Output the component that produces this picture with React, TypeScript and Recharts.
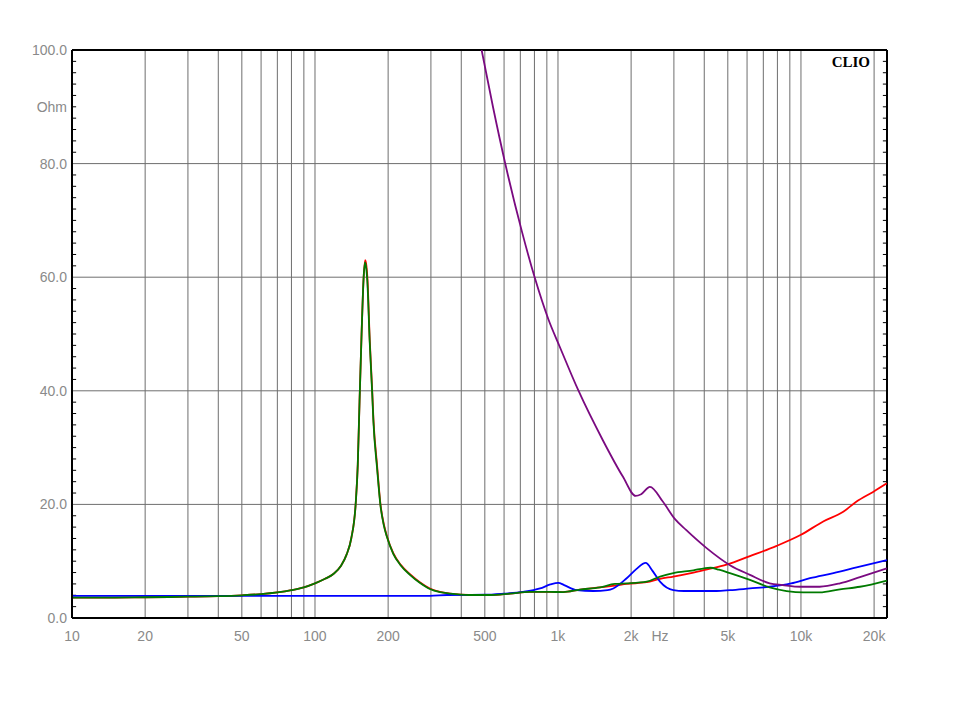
import { LineChart, Line, XAxis, YAxis, ReferenceLine } from 'recharts';

// impedance curves (Hz, Ohm)
const redFreq = [10, 15, 20, 25, 30, 40, 50, 60, 70, 80, 90, 100, 110, 119, 128, 135, 141, 147, 150, 152.5, 155.5, 158.6, 161, 162.8, 164.3, 168, 172, 174, 180, 186, 192, 198, 210, 225, 246, 270, 297, 327, 360, 430, 525, 635, 767, 927, 1050, 1230, 1490, 1715, 1918, 2318, 2630, 2983, 3610, 4155, 4943, 6166, 7943, 9954, 12350, 14930, 16940, 19810, 22560];
const redOhm = [3.6, 3.6, 3.65, 3.7, 3.75, 3.85, 4.0, 4.2, 4.5, 4.9, 5.4, 6.1, 6.9, 7.75, 9.2, 11.2, 14.0, 20.0, 27, 38, 50, 60, 63.0, 62.0, 60, 49, 40, 35, 27, 20.0, 16.5, 14.3, 11.4, 9.4, 7.7, 6.3, 5.2, 4.6, 4.3, 4.05, 4.05, 4.3, 4.6, 4.6, 4.55, 5.0, 5.4, 5.7, 6.0, 6.3, 6.9, 7.3, 8.0, 8.6, 9.4, 10.9, 12.7, 14.6, 17.0, 18.7, 20.5, 22.2, 23.7];

const greenFreq = [10, 15, 20, 25, 30, 40, 50, 60, 70, 80, 90, 100, 110, 119, 128, 135, 141, 147, 150, 152.5, 155.5, 158.6, 160.6, 162.5, 164.1, 168, 172, 174, 180, 186, 192, 198, 210, 225, 246, 270, 297, 327, 360, 430, 525, 635, 767, 927, 1050, 1230, 1490, 1715, 1918, 2318, 2630, 2983, 3610, 4000, 4240, 4600, 5103, 6166, 7435, 8730, 10220, 11940, 14470, 17490, 22560];
const greenOhm = [3.6, 3.6, 3.65, 3.7, 3.75, 3.85, 4.0, 4.2, 4.5, 4.9, 5.4, 6.1, 6.9, 7.75, 9.2, 11.2, 14.0, 20.0, 27, 38, 50, 60, 62.6, 61.6, 59.5, 48.5, 39.5, 34.5, 26.5, 19.8, 16.3, 14.2, 11.3, 9.3, 7.6, 6.2, 5.1, 4.55, 4.3, 4.05, 4.05, 4.3, 4.6, 4.6, 4.55, 5.0, 5.4, 6.0, 6.1, 6.4, 7.3, 7.9, 8.4, 8.75, 8.85, 8.5, 7.9, 6.7, 5.4, 4.75, 4.5, 4.5, 5.05, 5.5, 6.6];

const blueFreq = [10, 50, 297, 350, 500, 600, 719, 844, 930, 1003, 1060, 1194, 1398, 1600, 1689, 1918, 2100, 2296, 2450, 2630, 2983, 3300, 4500, 5103, 6166, 7435, 9110, 10888, 13600, 16940, 22560];
const blueOhm = [3.9, 3.9, 3.9, 4.05, 4.1, 4.3, 4.6, 5.2, 5.9, 6.2, 5.8, 4.9, 4.75, 4.9, 5.2, 7.0, 8.6, 9.7, 8.3, 6.4, 4.9, 4.75, 4.75, 4.9, 5.2, 5.5, 6.1, 7.0, 7.9, 8.9, 10.2];

const purpleFreq = [485, 540, 606, 709, 804, 913, 1016, 1212, 1530, 1849, 2088, 2200, 2391, 2700, 3032, 3367, 4090, 5103, 6166, 7435, 8400, 9954, 11940, 14470, 17490, 22560];
const purpleOhm = [100, 90, 80.1, 68.2, 59.8, 52.6, 47.8, 40.1, 31.3, 24.9, 21.5, 21.8, 23.1, 20.5, 17.4, 15.5, 12.3, 9.3, 7.6, 6.1, 5.8, 5.5, 5.5, 6.1, 7.2, 8.75];

const xTicks = [10, 20, 50, 100, 200, 500, 1000, 2000, 2630, 5000, 10000, 20000];
const xLabels = ['10', '20', '50', '100', '200', '500', '1k', '2k', 'Hz', '5k', '10k', '20k'];
const yTicks = [0, 20, 40, 60, 80, 90, 100];
const yLabels = ['0.0', '20.0', '40.0', '60.0', '80.0', 'Ohm', '100.0'];
const gridFreqs = [20, 30, 40, 50, 60, 70, 80, 90, 100, 200, 300, 400, 500, 600, 700, 800, 900, 1000, 2000, 3000, 4000, 5000, 6000, 7000, 8000, 9000, 10000, 20000];
const gridOhms = [20, 40, 60, 80];
const minorTicks = [2, 4, 6, 8, 10, 12, 14, 16, 18, 22, 24, 26, 28, 30, 32, 34, 36, 38, 42, 44, 46, 48, 50, 52, 54, 56, 58, 62, 64, 66, 68, 70, 72, 74, 76, 78, 82, 84, 86, 88, 90, 92, 94, 96, 98];

const pts = (fs: number[], vs: number[]) => fs.map((f, i) => ({ f, ohm: vs[i] }));

const font = '"Liberation Sans", Arial, sans-serif';
const labelColor = '#8a8a8a';
const gridColor = '#6e6e6e';
const xMin = 10;
const xMax = 22600;
const tickSpan = 1.04; // minor tick length as a frequency ratio on the log axis

function XTick({ x, y, payload }: any) {
  const i = xTicks.indexOf(payload.value);
  return (
    <text x={x} y={y + 15} textAnchor="middle" fill={labelColor} fontSize={14} fontFamily={font}>
      {xLabels[i]}
    </text>
  );
}

function YTick({ x, y, payload }: any) {
  const i = yTicks.indexOf(payload.value);
  return (
    <text x={x + 3} y={y + 5} textAnchor="end" fill={labelColor} fontSize={14} fontFamily={font}>
      {yLabels[i]}
    </text>
  );
}

export default function App() {
  const domainX: [number, number] = [xMin, xMax];
  return (
    <div style={{ position: 'absolute', left: 0, top: 0, width: 960, height: 720, background: '#fff' }}>
      <LineChart width={960} height={720} margin={{ top: 50, right: 73, bottom: 72, left: 12 }}>
        <XAxis
          dataKey="f"
          type="number"
          scale="log"
          domain={domainX}
          allowDataOverflow
          ticks={xTicks}
          interval={0}
          tick={<XTick />}
          tickLine={false}
          axisLine={{ stroke: '#000', strokeWidth: 2 }}
          height={30}
        />
        <YAxis
          type="number"
          domain={[0, 100]}
          allowDataOverflow
          ticks={yTicks}
          interval={0}
          tick={<YTick />}
          tickLine={false}
          axisLine={{ stroke: '#000', strokeWidth: 2 }}
          width={60}
        />
        {gridFreqs.map((f) => (
          <ReferenceLine key={'v' + f} x={f} stroke={gridColor} strokeWidth={1} />
        ))}
        {gridOhms.map((o) => (
          <ReferenceLine key={'h' + o} y={o} stroke={gridColor} strokeWidth={1} />
        ))}
        {minorTicks.map((o) => (
          <ReferenceLine key={'tl' + o} segment={[{ x: xMin, y: o }, { x: xMin * tickSpan, y: o }]} stroke="#000" strokeWidth={1} />
        ))}
        {minorTicks.map((o) => (
          <ReferenceLine key={'tr' + o} segment={[{ x: xMax / tickSpan, y: o }, { x: xMax, y: o }]} stroke="#000" strokeWidth={1} />
        ))}
        <ReferenceLine y={100} stroke="#000" strokeWidth={2} />
        <ReferenceLine x={xMin} stroke="#000" strokeWidth={2} />
        <ReferenceLine x={xMax} stroke="#000" strokeWidth={2} />
        <Line data={pts(redFreq, redOhm)} dataKey="ohm" type="monotone" stroke="#ff0000" strokeWidth={1.8} dot={false} isAnimationActive={false} />
        <Line data={pts(blueFreq, blueOhm)} dataKey="ohm" type="monotone" stroke="#0000ff" strokeWidth={1.8} dot={false} isAnimationActive={false} />
        <Line data={pts(greenFreq, greenOhm)} dataKey="ohm" type="monotone" stroke="#007a00" strokeWidth={1.8} dot={false} isAnimationActive={false} />
        <Line data={pts(purpleFreq, purpleOhm)} dataKey="ohm" type="monotone" stroke="#7a0a80" strokeWidth={1.8} dot={false} isAnimationActive={false} />
      </LineChart>
      <div
        style={{
          position: 'absolute',
          left: 790,
          top: 54,
          width: 80,
          textAlign: 'right',
          fontFamily: '"Liberation Serif", "Times New Roman", serif',
          fontWeight: 'bold',
          fontSize: 15,
          lineHeight: '16px',
          color: '#000',
        }}
      >
        CLIO
      </div>
    </div>
  );
}
